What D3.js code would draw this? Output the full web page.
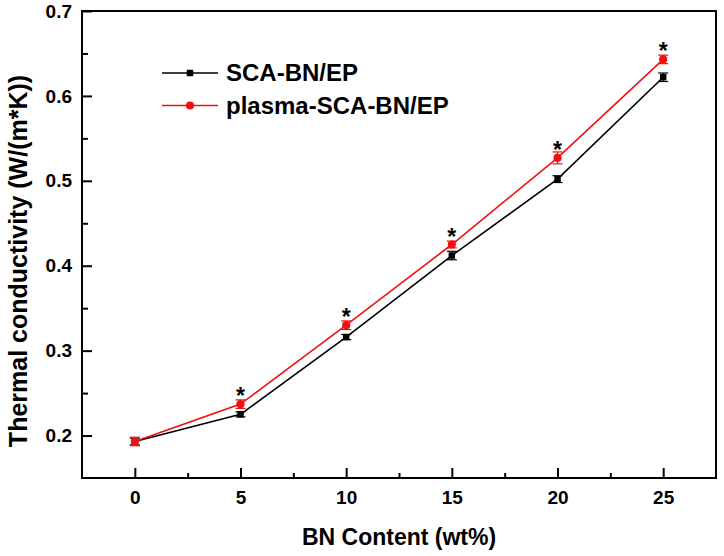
<!DOCTYPE html>
<html>
<head>
<meta charset="utf-8">
<script src="https://cdn.jsdelivr.net/npm/d3@7"></script>
<style>
  body { margin: 0; background: #fff; }
  text { font-family: Arial, "Liberation Sans", sans-serif; font-weight: bold; }
</style>
</head>
<body>
<div id="chart"></div>
<script>
'use strict';

// ---------- Data ---------- //
var bnContent = [0, 5, 10, 15, 20, 25];
var scaValues = [0.193, 0.225, 0.316, 0.412, 0.502, 0.622];
var scaErrors = [0.004, 0.003, 0.003, 0.005, 0.004, 0.005];
var plasmaValues = [0.193, 0.237, 0.330, 0.425, 0.527, 0.643];
var plasmaErrors = [0.005, 0.005, 0.005, 0.004, 0.007, 0.005];
var xTicks = [0, 5, 10, 15, 20, 25];
var xMinor = [2.5, 7.5, 12.5, 17.5, 22.5];
var yTicks = [0.2, 0.3, 0.4, 0.5, 0.6, 0.7];
var yMinor = [0.25, 0.35, 0.45, 0.55, 0.65];
var seriesNames = ['SCA-BN/EP', 'plasma-SCA-BN/EP'];

// ---------- Construct the graph ---------- //
var width = 724;
var height = 556;
var margin = {top: 11, right: 8, bottom: 78, left: 82};

var svg = d3.select('#chart').append('svg')
  .attr('width', width)
  .attr('height', height);

var x = d3.scaleLinear().domain([-2.5, 27.5]).range([margin.left, width - margin.right]);
var y = d3.scaleLinear().domain([0.15, 0.7]).range([height - margin.bottom, margin.top]);

// axes (ticks pointing inward)
svg.append('g')
  .attr('transform', 'translate(0,' + y.range()[0] + ')')
  .call(d3.axisBottom(x).tickValues(xTicks).tickSize(-10).tickPadding(13).tickFormat(d3.format('d')));
svg.append('g')
  .attr('transform', 'translate(0,' + y.range()[0] + ')')
  .call(d3.axisBottom(x).tickValues(xMinor).tickSize(-5).tickFormat(''));

svg.append('g')
  .attr('transform', 'translate(' + x.range()[0] + ',0)')
  .call(d3.axisLeft(y).tickValues(yTicks).tickSize(-10).tickPadding(10).tickFormat(d3.format('.1f')));
svg.append('g')
  .attr('transform', 'translate(' + x.range()[0] + ',0)')
  .call(d3.axisLeft(y).tickValues(yMinor).tickSize(-6).tickFormat(''));

svg.selectAll('.domain').remove();
svg.selectAll('.tick line').attr('stroke', '#000').attr('stroke-width', 2);
svg.selectAll('.tick text')
  .attr('font-size', 19)
  .attr('font-family', 'Arial, "Liberation Sans", sans-serif')
  .attr('fill', '#000');

// frame
svg.append('rect')
  .attr('x', x.range()[0])
  .attr('y', y.range()[1])
  .attr('width', x.range()[1] - x.range()[0])
  .attr('height', y.range()[0] - y.range()[1])
  .attr('fill', 'none')
  .attr('stroke', '#000')
  .attr('stroke-width', 2);

// axis titles
svg.append('text')
  .attr('x', (x.range()[0] + x.range()[1]) / 2)
  .attr('y', 545)
  .attr('text-anchor', 'middle')
  .attr('font-size', 23)
  .text('BN Content (wt%)');

svg.append('text')
  .attr('transform', 'translate(27,261) rotate(-90)')
  .attr('text-anchor', 'middle')
  .attr('font-size', 25)
  .text('Thermal conductivity (W/(m*K))');

// ---------- Series ---------- //
var series = [
  {name: seriesNames[0], color: '#000', values: scaValues, errors: scaErrors, shape: 'square'},
  {name: seriesNames[1], color: '#f01010', values: plasmaValues, errors: plasmaErrors, shape: 'circle'}
];

var line = d3.line()
  .x(function (d){ return x(d.x); })
  .y(function (d){ return y(d.y); });

function marker(s){
  return d3.symbol()
    .type(s.shape === 'square' ? d3.symbolSquare : d3.symbolCircle)
    .size(s.shape === 'square' ? 42 : 52)();
}

series.forEach(function (s){
  var pts = bnContent.map(function (b, i){ return {x: b, y: s.values[i], e: s.errors[i]}; });
  var g = svg.append('g');

  g.append('path')
    .datum(pts)
    .attr('d', line)
    .attr('fill', 'none')
    .attr('stroke', s.color)
    .attr('stroke-width', 1.6);

  // error bars
  var eb = g.selectAll('.err').data(pts).enter().append('g');
  eb.append('line')
    .attr('x1', function (d){ return x(d.x); })
    .attr('x2', function (d){ return x(d.x); })
    .attr('y1', function (d){ return y(d.y - d.e); })
    .attr('y2', function (d){ return y(d.y + d.e); })
    .attr('stroke', s.color).attr('stroke-width', 1.2);
  [-1, 1].forEach(function (sign){
    eb.append('line')
      .attr('x1', function (d){ return x(d.x) - 5; })
      .attr('x2', function (d){ return x(d.x) + 5; })
      .attr('y1', function (d){ return y(d.y + sign * d.e); })
      .attr('y2', function (d){ return y(d.y + sign * d.e); })
      .attr('stroke', s.color).attr('stroke-width', 1.2);
  });

  // markers
  g.selectAll('.pt').data(pts).enter().append('path')
    .attr('d', marker(s))
    .attr('transform', function (d){ return 'translate(' + x(d.x) + ',' + y(d.y) + ')'; })
    .attr('fill', s.color);
});

// significance asterisks above the plasma points
svg.selectAll('.star').data(bnContent.slice(1)).enter().append('text')
  .attr('x', function (d){ return x(d); })
  .attr('y', function (d){ return y(plasmaValues[bnContent.indexOf(d)]); })
  .attr('text-anchor', 'middle')
  .attr('font-size', 23)
  .text('*');

// ---------- Legend ---------- //
var legend = svg.append('g').attr('transform', 'translate(162,73)');
series.forEach(function (s, i){
  var row = legend.append('g').attr('transform', 'translate(0,' + (i * 32.5) + ')');
  row.append('line')
    .attr('x1', 0).attr('x2', 56)
    .attr('stroke', s.color).attr('stroke-width', 1.6);
  row.append('path')
    .attr('d', marker(s))
    .attr('transform', 'translate(28,0)')
    .attr('fill', s.color);
  row.append('text')
    .attr('x', 64)
    .attr('y', 8)
    .attr('font-size', 24)
    .text(s.name);
});
</script>
</body>
</html>
